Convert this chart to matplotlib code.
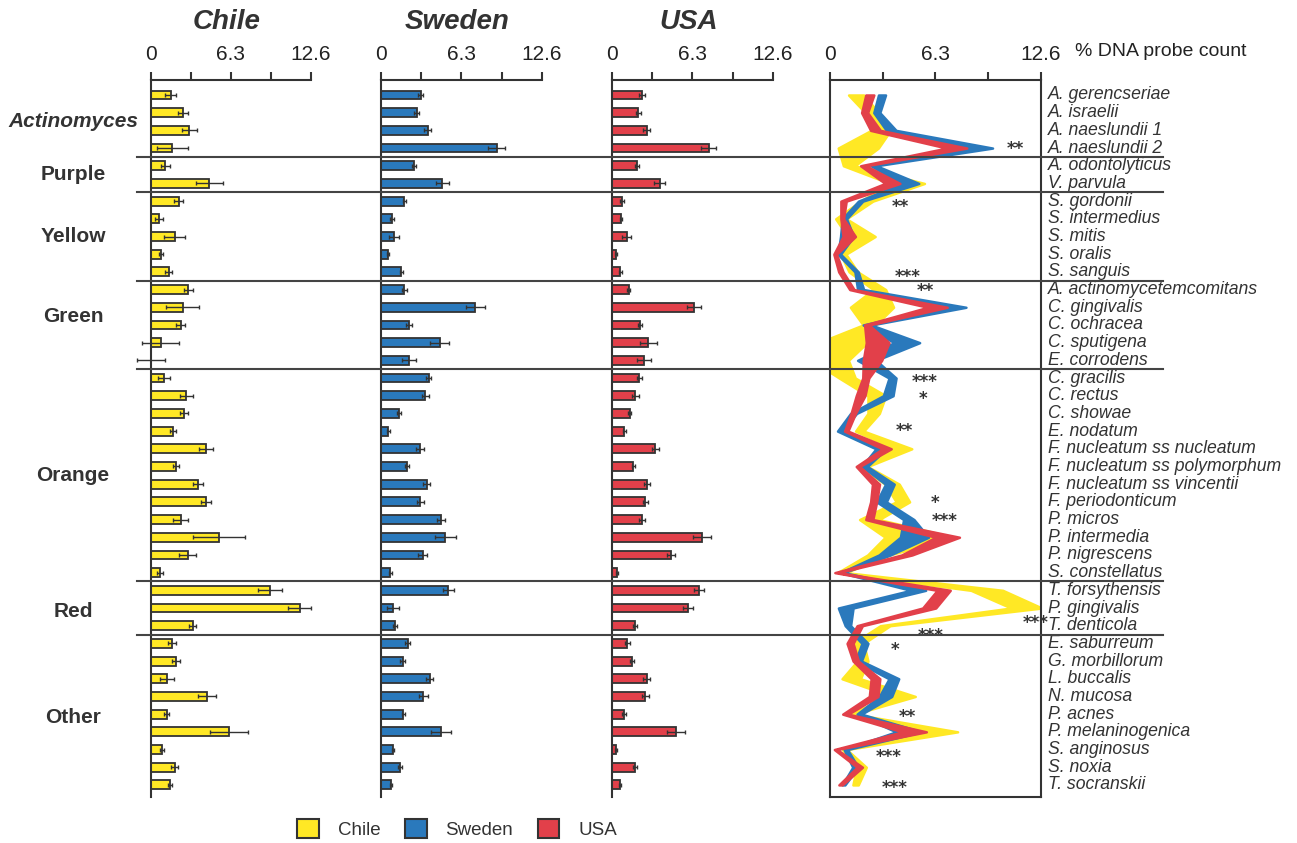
import matplotlib
matplotlib.use("Agg")
import matplotlib.pyplot as plt
from matplotlib import transforms
from matplotlib.lines import Line2D
from matplotlib.patches import Patch
import numpy as np

plt.rcParams['font.family'] = ['Liberation Sans', 'DejaVu Sans']

species = [
    "A. gerencseriae", "A. israelii", "A. naeslundii 1", "A. naeslundii 2",
    "A. odontolyticus", "V. parvula",
    "S. gordonii", "S. intermedius", "S. mitis", "S. oralis", "S. sanguis",
    "A. actinomycetemcomitans", "C. gingivalis", "C. ochracea", "C. sputigena", "E. corrodens",
    "C. gracilis", "C. rectus", "C. showae", "E. nodatum", "F. nucleatum ss nucleatum",
    "F. nucleatum ss polymorphum", "F. nucleatum ss vincentii", "F. periodonticum",
    "P. micros", "P. intermedia", "P. nigrescens", "S. constellatus",
    "T. forsythensis", "P. gingivalis", "T. denticola",
    "E. saburreum", "G. morbillorum", "L. buccalis", "N. mucosa", "P. acnes",
    "P. melaninogenica", "S. anginosus", "S. noxia", "T. socranskii",
]
groups = ["Actinomyces", "Purple", "Yellow", "Green", "Orange", "Red", "Other"]
group_sizes = [4, 2, 5, 5, 12, 3, 9]

chile_mean = [1.56, 2.51, 3.04, 1.69, 1.14, 4.62, 2.19, 0.66, 1.88, 0.79, 1.40,
              2.96, 2.51, 2.35, 0.77, 0.0, 1.03, 2.80, 2.61, 1.77, 4.36, 2.01,
              3.72, 4.36, 2.35, 5.36, 2.91, 0.69, 9.38, 11.75, 3.30, 1.69, 1.95,
              1.27, 4.41, 1.24, 6.13, 0.87, 1.88, 1.53]
chile_sem = [0.45, 0.40, 0.58, 1.20, 0.34, 1.03, 0.37, 0.32, 0.82, 0.16, 0.26,
             0.37, 1.29, 0.37, 1.45, 1.10, 0.48, 0.53, 0.34, 0.24, 0.53, 0.24,
             0.42, 0.40, 0.58, 2.06, 0.66, 0.24, 0.95, 0.92, 0.29, 0.32, 0.32,
             0.55, 0.69, 0.21, 1.50, 0.13, 0.29, 0.16]

sweden_mean = [3.11, 2.80, 3.66, 9.07, 2.61, 4.81, 1.83, 0.86, 1.02, 0.55, 1.59,
               1.83, 7.40, 2.22, 4.60, 2.20, 3.74, 3.48, 1.41, 0.58, 3.06, 2.07,
               3.58, 3.08, 4.71, 5.05, 3.27, 0.73, 5.28, 0.94, 1.07, 2.09, 1.70,
               3.82, 3.32, 1.75, 4.71, 0.94, 1.52, 0.81]
sweden_sem = [0.21, 0.18, 0.29, 0.65, 0.16, 0.50, 0.13, 0.13, 0.39, 0.08, 0.10,
              0.18, 0.73, 0.24, 0.76, 0.55, 0.21, 0.29, 0.18, 0.13, 0.31, 0.16,
              0.26, 0.29, 0.31, 0.84, 0.34, 0.10, 0.44, 0.44, 0.16, 0.18, 0.18,
              0.29, 0.37, 0.13, 0.76, 0.10, 0.16, 0.08]

usa_mean = [2.38, 2.07, 2.72, 7.58, 1.99, 3.74, 0.81, 0.73, 1.15, 0.31, 0.65,
            1.31, 6.43, 2.20, 2.85, 2.54, 2.14, 1.83, 1.39, 0.97, 3.40, 1.67,
            2.75, 2.61, 2.35, 7.03, 4.60, 0.39, 6.80, 5.93, 1.78, 1.20, 1.54,
            2.72, 2.61, 0.92, 5.05, 0.34, 1.78, 0.63]
usa_sem = [0.24, 0.18, 0.29, 0.60, 0.16, 0.44, 0.16, 0.08, 0.37, 0.08, 0.13,
           0.13, 0.58, 0.13, 0.68, 0.55, 0.18, 0.26, 0.13, 0.10, 0.26, 0.10,
           0.21, 0.18, 0.21, 0.71, 0.31, 0.10, 0.39, 0.39, 0.16, 0.18, 0.16,
           0.26, 0.26, 0.16, 0.71, 0.08, 0.16, 0.10]

# significance marks next to the ribbons
sig_text = ["**", "**", "***", "**", "***", "*", "**", "*", "***", "***",
            "***", "*", "**", "***", "***"]
sig_x = [11.06, 4.19, 4.67, 5.68, 5.68, 5.56, 4.43, 6.28, 6.88, 12.32,
         6.04, 3.89, 4.61, 3.53, 3.89]
sig_y = [2.83, 6.1, 10.06, 10.85, 16.0, 16.96, 18.77, 22.84, 23.85, 29.62,
         30.36, 31.15, 34.93, 37.2, 38.95]

countries = ["Chile", "Sweden", "USA"]
colors = ["#FFE825", "#2A79BC", "#E2404A"]
dark = "#333333"

W, H = 1297, 843
fig = plt.figure(figsize=(W / 100, H / 100), dpi=100)

top_px, bot_px = 80, 797
row0_px, step_px = 95, 17.69
ylim = ((bot_px - row0_px) / step_px, (top_px - row0_px) / step_px)
rows = np.arange(len(species))


def make_axes(left_px, width_px):
    ax = fig.add_axes([left_px / W, 1 - bot_px / H, width_px / W, (bot_px - top_px) / H])
    ax.set_facecolor("none")
    ax.set_xlim(0, 12.6)
    ax.set_ylim(*ylim)
    ax.xaxis.tick_top()
    ax.set_xticks([0, 3.15, 6.3, 9.45, 12.6])
    ax.set_xticklabels(["0", "", "6.3", "", "12.6"])
    ax.tick_params(axis="x", direction="out", length=5.8, width=1.5, pad=5.5,
                   labelsize=15, colors=dark, labelcolor="#222222")
    ax.set_yticks([])
    for s in ax.spines.values():
        s.set_linewidth(1.5)
        s.set_color(dark)
    return ax


bar_axes = []
for left, width in [(151, 159.5), (381, 160.7), (612, 160.7)]:
    bar_axes.append(make_axes(left, width))
band_ax = make_axes(830, 210.7)

means = [chile_mean, sweden_mean, usa_mean]
sems = [chile_sem, sweden_sem, usa_sem]

for ax, m, e, c, name in zip(bar_axes, means, sems, colors, countries):
    ax.spines["right"].set_visible(False)
    ax.spines["bottom"].set_visible(False)
    ax.barh(rows, m, height=0.5, color=c, edgecolor=dark, linewidth=1.3, zorder=2)
    eb = ax.errorbar(m, rows, xerr=e, fmt="none", ecolor=dark, elinewidth=1.0,
                     capsize=1.6, capthick=1.0, zorder=3)
    for art in eb.get_children():
        art.set_clip_on(False)
    x0, x1 = ax.get_position().x0, ax.get_position().x1
    fig.text((x0 + x1) / 2 - 4 / W, 1 - 22 / H, name, ha="center", va="center",
             fontsize=20, fontweight="bold", style="italic", color=dark)

# mean +/- SEM ribbons for each country
for m, e, c in zip(means, sems, colors):
    m, e = np.array(m), np.array(e)
    band_ax.fill_betweenx(rows, m - e, m + e, facecolor=c, edgecolor=c,
                          linewidth=1.8, zorder=2)

for x, y, t in zip(sig_x, sig_y, sig_text):
    band_ax.annotate(t, (x, y), xytext=(0, -6.5), textcoords="offset points",
                     ha="center", va="baseline", fontsize=12, fontweight="bold",
                     family="DejaVu Sans", color=dark,
                     annotation_clip=False, zorder=5)

lab_tr = transforms.blended_transform_factory(band_ax.transAxes, band_ax.transData)
for r, name in zip(rows, species):
    band_ax.text(1.033, r, name, transform=lab_tr, ha="left", va="center",
                 fontsize=12.7, style="italic", color=dark)

fig.text(1075 / W, 1 - 52 / H, "% DNA probe count", ha="left", va="center",
         fontsize=14, color="#222222")

# group separators across all panels
sep_tr = transforms.blended_transform_factory(fig.transFigure, band_ax.transData)
bounds = np.cumsum(group_sizes)[:-1] - 0.5
for b in bounds:
    fig.add_artist(Line2D([137 / W, 1163 / W], [b, b], transform=sep_tr,
                          color="#444444", linewidth=1.5, zorder=4))

# group names on the left
label_rows = [1.5, 4.5, 8, 12.5, 21.5, 29.2, 35.2]
for g, r in zip(groups, label_rows):
    fig.text(73 / W, r, g, transform=sep_tr, ha="center", va="center",
             fontsize=15, fontweight="bold", color=dark,
             style="italic" if g == "Actinomyces" else "normal")

handles = [Patch(facecolor=c, edgecolor=dark, linewidth=1.5) for c in colors]
fig.legend(handles, countries, loc="center", bbox_to_anchor=(457 / W, 1 - 829 / H),
           ncol=3, frameon=False, fontsize=13.5, handlelength=1.17, handleheight=1.12,
           handletextpad=1.0, columnspacing=1.3, labelcolor="#333333")

fig.savefig("out.png", dpi=100)
